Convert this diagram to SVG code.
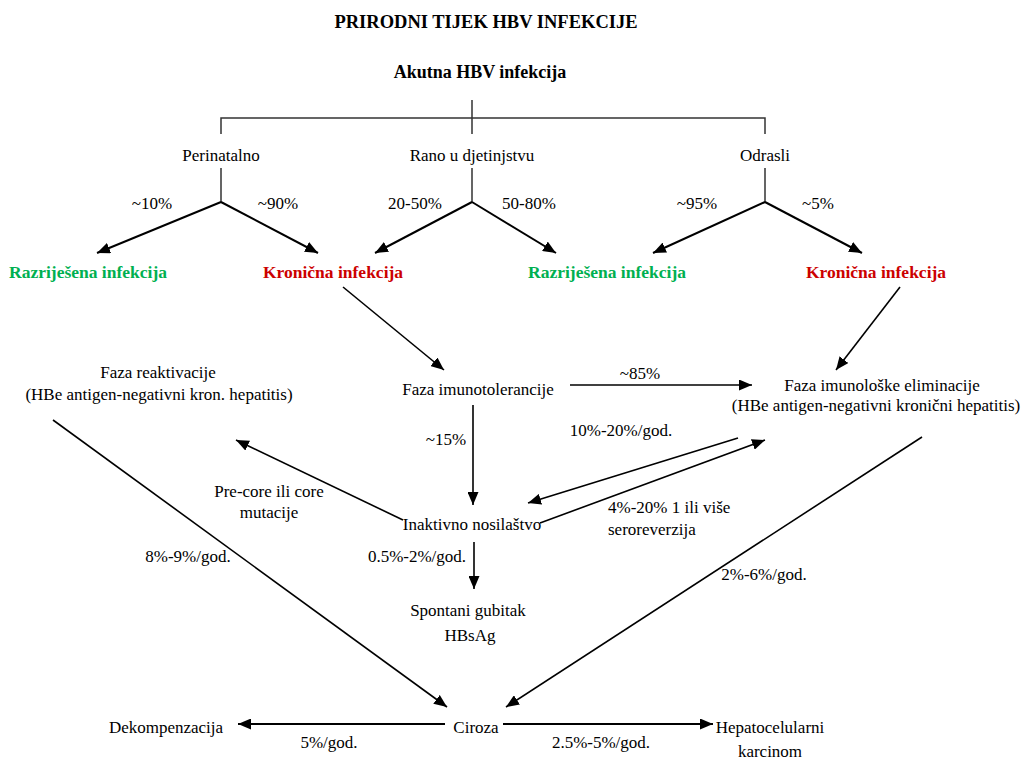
<svg xmlns="http://www.w3.org/2000/svg" width="1025" height="760" viewBox="0 0 1025 760" font-family="Liberation Serif, Times New Roman, serif">
<style>
text{font-size:17px;fill:#000;text-anchor:middle}
.title{font-size:18.5px;font-weight:bold}
.h{font-size:18px;font-weight:bold}
.g{fill:#00B050;font-weight:bold;font-size:17.5px}
.r{fill:#CC0000;font-weight:bold;font-size:17.5px}
.l{text-anchor:start}
.br{stroke:#333;stroke-width:1.5;fill:none}
.ar{stroke:#000;stroke-width:1.6;fill:none;marker-end:url(#ah)}
.ar2{stroke:#000;stroke-width:2;fill:none;marker-end:url(#ah)}
</style>
<defs>
<marker id="ah" markerUnits="userSpaceOnUse" markerWidth="14" markerHeight="11" refX="13" refY="5.5" orient="auto">
<path d="M0,0 L13,5.5 L0,11 z" fill="#000"/>
</marker>
</defs>
<rect width="1025" height="760" fill="#fff"/>
<g id="connectors">
<path class="br" d="M472,100 V134 M221,134 V118 H765 V134"/>
<path class="br" d="M221,168 V202 M472,168 V202 M765,168 V202"/>
<path class="ar2" d="M221,202 L97,253"/>
<path class="ar2" d="M221,202 L318,253"/>
<path class="ar2" d="M472,202 L375,253"/>
<path class="ar2" d="M472,202 L556,253"/>
<path class="ar2" d="M765,202 L653,253"/>
<path class="ar2" d="M765,202 L862,253"/>
<path class="ar" d="M343,287 L444,370"/>
<path class="ar" d="M900,287 L836,370"/>
<path class="ar" d="M570,385 L752,385"/>
<path class="ar" d="M473,405 L473,505"/>
<path class="ar" d="M403,520 L236,440"/>
<path class="ar" d="M738,438 L528,503"/>
<path class="ar" d="M540,523 L765,440"/>
<path class="ar" d="M474,542 L474,589"/>
<path class="ar" d="M53,420 L447,707"/>
<path class="ar" d="M922,437 L506,707"/>
<path class="ar2" d="M445,724 L238,724"/>
<path class="ar2" d="M503,724 L713,724"/>
</g>
<g id="title"><text class="title" x="486" y="28">PRIRODNI TIJEK HBV INFEKCIJE</text></g>
<g id="akutna"><text class="h" x="480" y="78">Akutna HBV infekcija</text></g>
<g id="perinatalno"><text x="221" y="161">Perinatalno</text></g>
<g id="rano"><text x="472" y="161">Rano u djetinjstvu</text></g>
<g id="odrasli"><text x="765" y="161">Odrasli</text></g>
<g id="pct-labels">
<text x="152" y="209">~10%</text>
<text x="278" y="209">~90%</text>
<text x="415" y="209">20-50%</text>
<text x="529" y="209">50-80%</text>
<text x="697" y="209">~95%</text>
<text x="818" y="209">~5%</text>
</g>
<g id="razrijesena1"><text class="g" x="88" y="278">Razriješena infekcija</text></g>
<g id="kronicna1"><text class="r" x="333" y="278">Kronična infekcija</text></g>
<g id="razrijesena2"><text class="g" x="607" y="278">Razriješena infekcija</text></g>
<g id="kronicna2"><text class="r" x="876" y="278">Kronična infekcija</text></g>
<g id="reaktivacija">
<text x="158" y="378">Faza reaktivacije</text>
<text x="159" y="400">(HBe antigen-negativni kron. hepatitis)</text>
</g>
<g id="imunotolerancija"><text x="478" y="395">Faza imunotolerancije</text></g>
<g id="eliminacija">
<text x="882" y="391">Faza imunološke eliminacije</text>
<text x="876" y="411">(HBe antigen-negativni kronični hepatitis)</text>
</g>
<g id="inaktivno"><text x="472" y="530">Inaktivno nosilaštvo</text></g>
<g id="spontani">
<text x="468" y="616">Spontani gubitak</text>
<text x="470" y="641">HBsAg</text>
</g>
<g id="ciroza"><text x="476" y="733">Ciroza</text></g>
<g id="dekompenzacija"><text x="166" y="733">Dekompenzacija</text></g>
<g id="hcc">
<text x="770" y="733">Hepatocelularni</text>
<text x="770" y="757">karcinom</text>
</g>
<g id="edge-labels">
<text x="640" y="379">~85%</text>
<text x="446" y="445">~15%</text>
<text x="621" y="436">10%-20%/god.</text>
<text x="269" y="497">Pre-core ili core</text>
<text x="269" y="518">mutacije</text>
<text class="l" x="608" y="513">4%-20% 1 ili više</text>
<text class="l" x="608" y="535">seroreverzija</text>
<text x="188" y="562">8%-9%/god.</text>
<text x="417" y="562">0.5%-2%/god.</text>
<text x="764" y="580">2%-6%/god.</text>
<text x="329" y="748">5%/god.</text>
<text x="601" y="748">2.5%-5%/god.</text>
</g>
</svg>
